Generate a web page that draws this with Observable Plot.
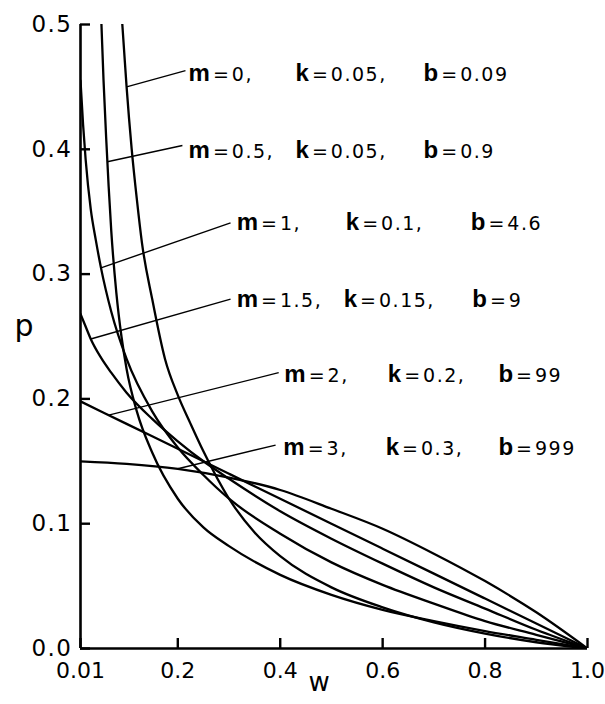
<!DOCTYPE html>
<html><head><meta charset="utf-8">
<script src="https://cdn.jsdelivr.net/npm/d3@7"></script>
<script src="https://cdn.jsdelivr.net/npm/@observablehq/plot@0.6"></script>
<style>
html,body{margin:0;padding:0;background:#fff;}
#chart{width:605px;height:704px;}
</style></head><body><div id="chart"></div>
<script>
// ---- data ----
const m0W  = [0.09, 0.095, 0.1, 0.11, 0.12, 0.13, 0.15, 0.175, 0.2, 0.225, 0.25, 0.3, 0.35, 0.4, 0.5, 0.6, 0.7, 0.8, 0.9, 1.0];
const m0P  = [0.51, 0.48, 0.45, 0.40, 0.36, 0.325, 0.28, 0.232, 0.203, 0.18, 0.158, 0.12, 0.093, 0.074, 0.049, 0.033, 0.021, 0.012, 0.005, 0.0];
const m05W = [0.048, 0.05, 0.055, 0.06, 0.065, 0.07, 0.08, 0.09, 0.1, 0.12, 0.15, 0.2, 0.25, 0.3, 0.4, 0.5, 0.6, 0.7, 0.8, 0.9, 1.0];
const m05P = [0.53, 0.51, 0.455, 0.41, 0.37, 0.335, 0.285, 0.25, 0.224, 0.19, 0.157, 0.120, 0.097, 0.082, 0.059, 0.043, 0.031, 0.022, 0.014, 0.007, 0.0];
const m1W  = [0.01, 0.015, 0.02, 0.03, 0.04, 0.05, 0.07, 0.1, 0.15, 0.2, 0.25, 0.3, 0.4, 0.5, 0.6, 0.7, 0.8, 0.9, 1.0];
const m1P  = [0.455, 0.42, 0.392, 0.352, 0.327, 0.305, 0.27, 0.232, 0.19, 0.161, 0.139, 0.12, 0.092, 0.069, 0.051, 0.036, 0.022, 0.011, 0.0];
const m15W = [0.01, 0.02, 0.03, 0.05, 0.07, 0.1, 0.15, 0.2, 0.25, 0.3, 0.4, 0.5, 0.6, 0.7, 0.8, 0.9, 1.0];
const m15P = [0.268, 0.258, 0.248, 0.233, 0.221, 0.205, 0.184, 0.166, 0.150, 0.136, 0.110, 0.088, 0.068, 0.049, 0.032, 0.015, 0.0];
const m2W  = [0.01, 0.1, 0.2, 0.3, 0.4, 0.5, 0.6, 0.7, 0.8, 0.9, 1.0];
const m2P  = [0.198, 0.180, 0.160, 0.140, 0.120, 0.100, 0.080, 0.060, 0.040, 0.020, 0.0];
const m3W  = [0.01, 0.1, 0.2, 0.3, 0.4, 0.5, 0.6, 0.7, 0.8, 0.9, 1.0];
const m3P  = [0.150, 0.148, 0.144, 0.137, 0.127, 0.112, 0.096, 0.076, 0.054, 0.029, 0.0];

const labelM = ["0", "0.5", "1", "1.5", "2", "3"];
const labelK = ["0.05", "0.05", "0.1", "0.15", "0.2", "0.3"];
const labelB = ["0.09", "0.9", "4.6", "9", "99", "999"];

const xTickValues = [0.01, 0.2, 0.4, 0.6, 0.8, 1.0];
const xTickLabels = ["0.01", "0.2", "0.4", "0.6", "0.8", "1.0"];
const yTickValues = [0, 0.1, 0.2, 0.3, 0.4, 0.5];
const yTickLabels = ["0.0", "0.1", "0.2", "0.3", "0.4", "0.5"];

// ---- annotation placement (data coordinates) ----
const annoP  = [0.460, 0.399, 0.341, 0.279, 0.219, 0.161];
const annoMW = [0.221, 0.221, 0.315, 0.315, 0.408, 0.406];
const annoKW = [0.430, 0.430, 0.528, 0.524, 0.610, 0.606];
const annoBW = [0.680, 0.680, 0.772, 0.775, 0.826, 0.826];
const leadFromW = [0.1, 0.0625, 0.05, 0.03, 0.065, 0.2];
const leadFromP = [0.45, 0.39, 0.305, 0.248, 0.187, 0.144];
const leadToW = [0.215, 0.209, 0.303, 0.303, 0.397, 0.391];
const leadToP = [0.463, 0.403, 0.341, 0.280, 0.221, 0.163];

const series = [
  {m: "0", w: m0W, p: m0P},
  {m: "0.5", w: m05W, p: m05P},
  {m: "1", w: m1W, p: m1P},
  {m: "1.5", w: m15W, p: m15P},
  {m: "2", w: m2W, p: m2P},
  {m: "3", w: m3W, p: m3P}
];
const curveRows = series.flatMap(s => s.w.map((w, i) => ({series: s.m, w, p: s.p[i]})));
const labelRows = labelM.map((m, i) => ({
  m, k: labelK[i], b: labelB[i], p: annoP[i], mw: annoMW[i], kw: annoKW[i], bw: annoBW[i],
  w1: leadFromW[i], p1: leadFromP[i], w2: leadToW[i], p2: leadToP[i]
}));

const font = "'DejaVu Sans', 'Liberation Sans', Arial, sans-serif";
const W = 605, H = 704, ML = 80, MR = 18, MT = 24, MB = 56;
const xDomain = [0.01, 1.0], yDomain = [0, 0.5];
const tickPx = 10;
// inward tick length expressed in data units of each axis
const xTickLen = tickPx / (W - ML - MR) * (xDomain[1] - xDomain[0]);
const yTickLen = tickPx / (H - MT - MB) * (yDomain[1] - yDomain[0]);

const chart = Plot.plot({
  width: W, height: H,
  marginLeft: ML, marginRight: MR, marginTop: MT, marginBottom: MB,
  x: {domain: xDomain},
  y: {domain: yDomain},
  style: {fontFamily: font, background: "#fff", color: "#000"},
  marks: [
    Plot.axisX({ticks: xTickValues, tickFormat: d => xTickLabels[xTickValues.indexOf(d)],
      tickSize: 0, tickPadding: 14, fontSize: 22, label: null}),
    Plot.axisY({ticks: yTickValues, tickFormat: d => yTickLabels[yTickValues.indexOf(d)],
      tickSize: 0, tickPadding: 8, fontSize: 23, label: null}),
    // inward tick marks
    Plot.ruleY(yTickValues, {y: d => d, x1: xDomain[0], x2: xDomain[0] + xTickLen, stroke: "#000", strokeWidth: 2.4}),
    Plot.ruleX(xTickValues, {x: d => d, y1: yDomain[0], y2: yDomain[0] + yTickLen, stroke: "#000", strokeWidth: 2.4}),
    Plot.ruleX([xDomain[0]], {stroke: "#000", strokeWidth: 2.6}),
    Plot.ruleY([yDomain[0]], {stroke: "#000", strokeWidth: 2.6}),
    Plot.line(curveRows, {x: "w", y: "p", z: "series", curve: "monotone-x", stroke: "#000", strokeWidth: 2.3, clip: true}),
    Plot.link(labelRows, {x1: "w1", y1: "p1", x2: "w2", y2: "p2", stroke: "#000", strokeWidth: 1.4}),
    Plot.text(labelRows, {x: "mw", y: "p", text: d => `m=${d.m},`, textAnchor: "start", fontSize: 22}),
    Plot.text(labelRows, {x: "kw", y: "p", text: d => `k=${d.k},`, textAnchor: "start", fontSize: 22}),
    Plot.text(labelRows, {x: "bw", y: "p", text: d => `b=${d.b}`, textAnchor: "start", fontSize: 22}),
    Plot.text(["p"], {text: d => d, frameAnchor: "left", dx: -66, dy: -10, fontSize: 30}),
    Plot.text(["w"], {text: d => d, frameAnchor: "bottom", dx: -15, dy: 42, fontSize: 26})
  ]
});

// y tick label letter spacing (the original face has wide digits)
chart.querySelectorAll('g[aria-label="y-axis tick label"] text')
  .forEach(t => t.setAttribute("letter-spacing", "1.5"));

// style the annotation labels: bold letter, regular "=" and value
chart.querySelectorAll("text").forEach(t => {
  const mt = /^([mkb])=(.*)$/.exec(t.textContent);
  if (!mt) return;
  t.textContent = "";
  const ns = "http://www.w3.org/2000/svg";
  const a = document.createElementNS(ns, "tspan");
  a.setAttribute("style", "font-family:'Liberation Sans',Arial,sans-serif;font-weight:bold;font-size:24px");
  a.textContent = mt[1];
  const e = document.createElementNS(ns, "tspan");
  e.setAttribute("style", "font-family:'DejaVu Sans',sans-serif;font-size:19px");
  e.setAttribute("dx", "3");
  e.textContent = "=";
  const v = document.createElementNS(ns, "tspan");
  v.setAttribute("style", "font-family:'DejaVu Sans',sans-serif;font-size:19px;letter-spacing:1.5px");
  v.setAttribute("dx", "3");
  v.textContent = mt[2];
  t.append(a, e, v);
});

document.getElementById("chart").append(chart);
</script>
</body></html>
